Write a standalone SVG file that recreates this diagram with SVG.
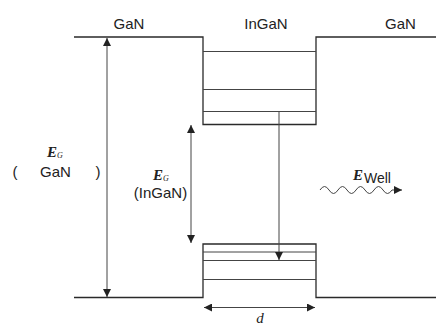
<svg xmlns="http://www.w3.org/2000/svg" width="436" height="325" viewBox="0 0 436 325">
<defs>
<style>
.ln{stroke:#2a2a2a;stroke-width:1.3;fill:none}
.lv{stroke:#444;stroke-width:1;fill:none}
.t{font-family:"Liberation Sans",Arial,sans-serif;font-size:15px;font-style:normal;font-weight:normal;fill:#222}
.w{font-family:"Liberation Sans",Arial,sans-serif;font-size:14px;font-style:normal;font-weight:normal;fill:#222}
.e{font-family:"Liberation Serif","Times New Roman",serif;font-style:italic;font-weight:bold;font-size:15px;fill:#222}
.d{font-family:"Liberation Serif","Times New Roman",serif;font-style:italic;font-size:15px;fill:#222}
.s{font-family:"Liberation Serif","Times New Roman",serif;font-style:italic;font-weight:normal;font-size:8px;fill:#222}
</style>
<marker id="ah" viewBox="0 0 10 10" refX="10" refY="5" markerWidth="8" markerHeight="8" markerUnits="userSpaceOnUse" orient="auto-start-reverse">
<path d="M0,0 L10,5 L0,10 z" fill="#222"/>
</marker>
</defs>
<rect width="436" height="325" fill="#fff"/>
<g id="band-edges">
<path class="ln" d="M74,37 H203 V124.5 H316 V37 H436"/>
<path class="ln" d="M74,297.5 H203 V244 H316 V297.5 H436"/>
</g>
<g id="upper-levels">
<line class="lv" x1="203" y1="51.5" x2="316" y2="51.5"/>
<line class="lv" x1="203" y1="89.5" x2="316" y2="89.5"/>
<line class="lv" x1="203" y1="111.5" x2="316" y2="111.5"/>
</g>
<g id="lower-levels">
<line class="lv" x1="203" y1="252" x2="316" y2="252"/>
<line class="lv" x1="203" y1="260.5" x2="316" y2="260.5"/>
<line class="lv" x1="203" y1="279.5" x2="316" y2="279.5"/>
</g>
<g id="connectors">
<line class="lv" x1="107" y1="38" x2="107" y2="297" marker-start="url(#ah)" marker-end="url(#ah)"/>
<line class="lv" x1="191" y1="125" x2="191" y2="243" marker-start="url(#ah)" marker-end="url(#ah)"/>
<line class="lv" x1="279" y1="111.5" x2="279" y2="260" marker-end="url(#ah)"/>
<line class="lv" x1="204" y1="307.5" x2="315" y2="307.5" marker-start="url(#ah)" marker-end="url(#ah)"/>
<path class="lv" d="M320,190 q4.5,-7 9,0 t9,0 t9,0 t9,0 t9,0 t9,0 t9,0 t9,0 L402,190" marker-end="url(#ah)"/>
</g>
<g id="labels">
<text class="t" x="129" y="29" text-anchor="middle">GaN</text>
<text class="t" x="266" y="29" text-anchor="middle">InGaN</text>
<text class="t" x="400.5" y="29" text-anchor="middle">GaN</text>
<text class="e" x="47" y="157">E<tspan class="s" dy="1">G</tspan></text>
<text class="t" x="15" y="177" text-anchor="middle">(</text>
<text class="t" x="55.5" y="177" text-anchor="middle">GaN</text>
<text class="t" x="98" y="177" text-anchor="middle">)</text>
<text class="e" x="153" y="180">E<tspan class="s" dy="1">G</tspan></text>
<text class="t" x="160.5" y="198" text-anchor="middle">(InGaN)</text>
<text class="e" x="353" y="180">E<tspan class="w" dx="1" dy="3">Well</tspan></text>
<text class="d" x="260" y="323" text-anchor="middle">d</text>
</g>
</svg>
